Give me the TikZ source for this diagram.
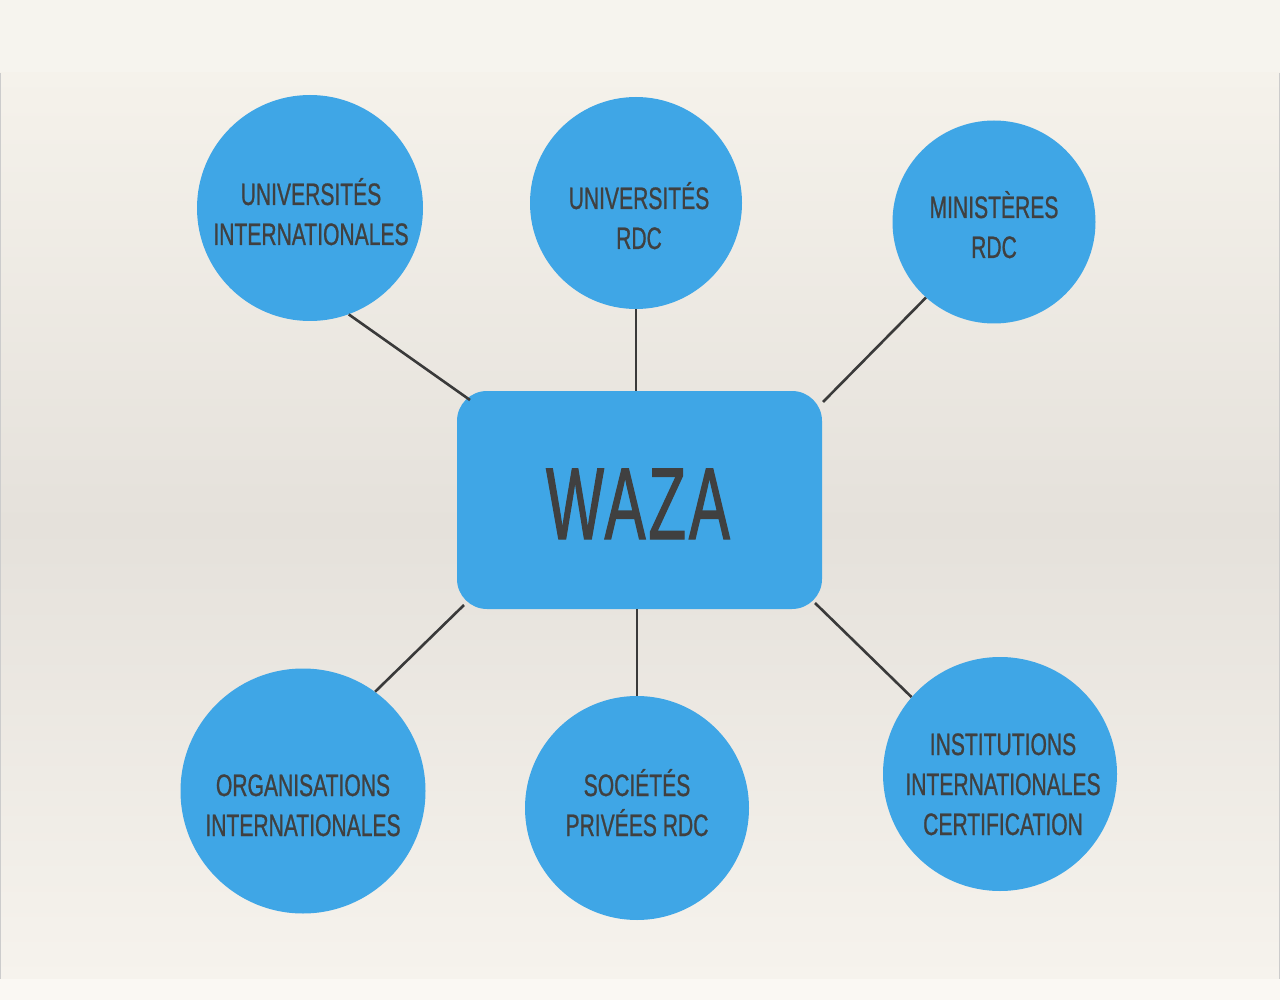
\documentclass[tikz,border=0pt]{standalone}
\usepackage{fontspec}
\newfontfamily\cond{Liberation Sans}[FakeStretch=0.68,FakeBold=0.8]
\newfontfamily\condw{Liberation Sans}[FakeStretch=0.6,FakeBold=1.2,LetterSpace=3]
\definecolor{bandtop}{HTML}{F6F4EE}
\definecolor{bandbot}{HTML}{FAF8F3}
\definecolor{papertop}{HTML}{F5F2EB}
\definecolor{papermid}{HTML}{E5E1DB}
\definecolor{paperbot}{HTML}{F6F3ED}
\definecolor{bubble}{HTML}{3FA6E6}
\definecolor{ink}{HTML}{404040}
\definecolor{wire}{HTML}{3A3A3A}
\tikzset{
  bub/.style={circle, fill=bubble, draw=none, inner sep=0pt},
  lab/.style={text=ink, align=center, font=\cond\fontsize{31}{40}\selectfont, inner sep=0pt},
  hub/.style={rectangle, rounded corners=30pt, fill=bubble, draw=none, minimum width=365pt, minimum height=218pt, inner sep=0pt},
  link/.style={draw=wire, line width=2.6pt},
}
\begin{document}
\begin{tikzpicture}[x=1pt,y=-1pt]
\useasboundingbox (0,0) rectangle (1280,1000);
% background
\fill[bandtop] (0,0) rectangle (1280,73);
\shade[top color=papertop, bottom color=paperbot, middle color=papermid] (0,73) rectangle (1280,979);
\fill[bandbot] (0,979) rectangle (1280,1000);
\draw[draw=black!20, line width=0.8pt] (0.5,73) -- (0.5,979);
\draw[draw=black!20, line width=0.8pt] (1279.5,73) -- (1279.5,979);

% nodes
\node[hub] (w) at (639.5,500) {};
\node[bub, minimum size=226pt] (c1) at (310,208) {};
\node[bub, minimum size=212pt] (c2) at (636,203) {};
\node[bub, minimum size=203pt] (c3) at (994,222) {};
\node[bub, minimum size=245pt] (c4) at (303,791) {};
\node[bub, minimum size=224pt] (c5) at (637,808) {};
\node[bub, minimum size=234pt] (c6) at (1000,774) {};

% connector ends on the hub
\coordinate (e1) at (470,400);
\coordinate (e3) at (823,402);
\coordinate (e4) at (464,605);
\coordinate (e6) at (815,603);

\draw[link] (c1.-70) -- (e1);
\draw[link] (c2.south) -- (c2.south |- w.north);
\draw[link] (c3.228) -- (e3);
\draw[link] (c4.54) -- (e4);
\draw[link] (c5.north) -- (c5.north |- w.south);
\draw[link] (c6.139) -- (e6);

% texts
\node[lab, anchor=base] (t0) at (638,539) {\condw\fontsize{102}{110}\selectfont WAZA};
\node[lab, anchor=base] (t1) at (311,245) {UNIVERSITÉS\\INTERNATIONALES};
\node[lab, anchor=base] (t2) at (639,249) {UNIVERSITÉS\\RDC};
\node[lab, anchor=base] (t3) at (994,258) {MINISTÈRES\\RDC};
\node[lab, anchor=base] (t4) at (303,836) {ORGANISATIONS\\INTERNATIONALES};
\node[lab, anchor=base] (t5) at (637,836) {SOCIÉTÉS\\PRIVÉES RDC};
\node[lab, anchor=base] (t6) at (1003,835) {INSTITUTIONS\\INTERNATIONALES\\CERTIFICATION};
\end{tikzpicture}
\end{document}
